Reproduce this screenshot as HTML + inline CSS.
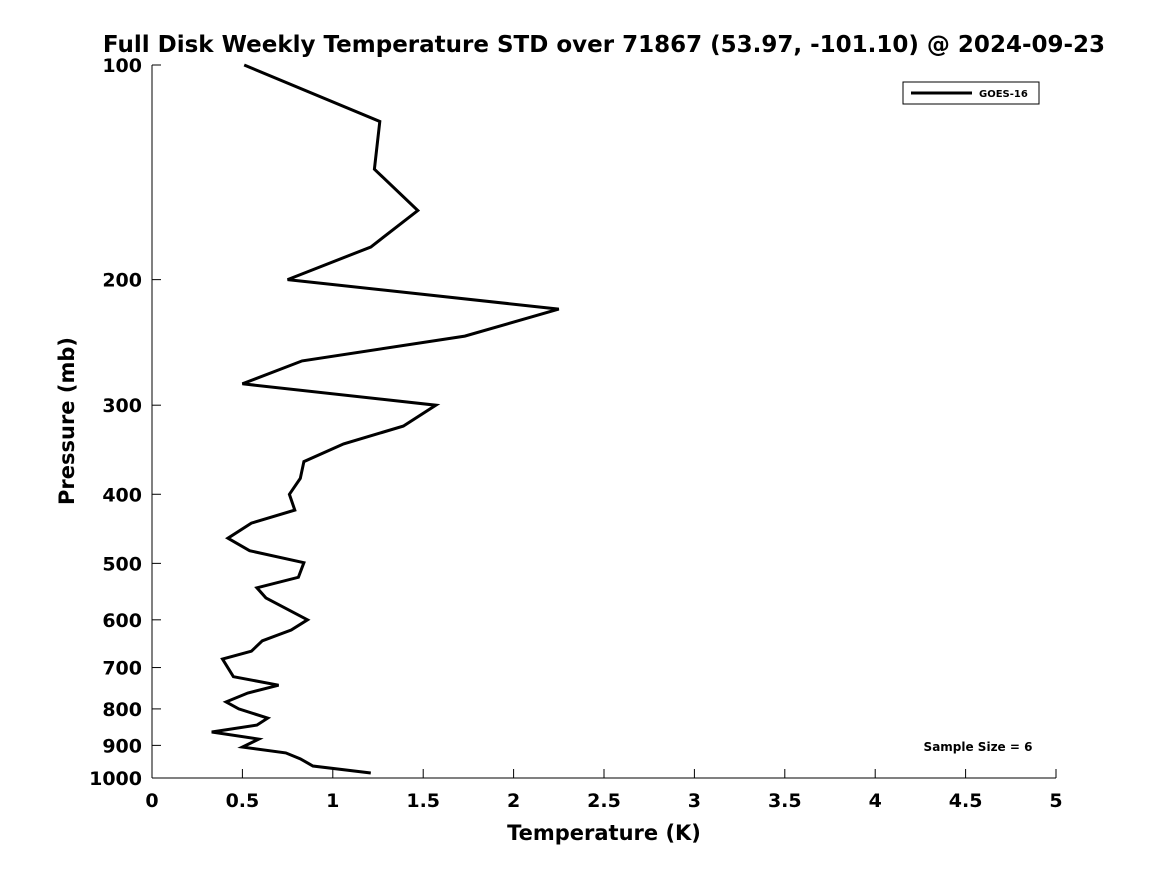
<!DOCTYPE html>
<html><head><meta charset="utf-8"><style>
body{margin:0;background:#fff;}
svg{display:block;font-family:"DejaVu Sans","Liberation Sans",sans-serif;font-weight:bold;}
</style></head><body>
<svg id="chart" width="1167" height="875">
<text x="604" y="52" text-anchor="middle" font-size="23">Full Disk Weekly Temperature STD over 71867 (53.97, -101.10) @ 2024-09-23</text>
<g id="axes"></g>
<polyline id="series" fill="none" stroke="#000" stroke-width="3" stroke-linejoin="miter"/>
<rect x="903" y="82" width="136" height="22" fill="#fff" stroke="#000" stroke-width="1"/>
<line x1="911" y1="93" x2="972" y2="93" stroke="#000" stroke-width="3"/>
<text x="979" y="97" font-size="10">GOES-16</text>
<text x="978" y="751" text-anchor="middle" font-size="12">Sample Size = 6</text>
<text x="604" y="840" text-anchor="middle" font-size="21">Temperature (K)</text>
<text transform="translate(74,421) rotate(-90)" text-anchor="middle" font-size="21">Pressure (mb)</text>
</svg>
<script>
const temps=[0.51,1.26,1.23,1.47,1.21,0.75,2.25,1.73,0.83,0.50,1.57,1.39,1.06,0.84,0.82,0.76,0.79,0.55,0.42,0.54,0.84,0.81,0.58,0.63,0.86,0.77,0.61,0.55,0.39,0.45,0.70,0.53,0.41,0.48,0.64,0.58,0.33,0.59,0.50,0.74,0.82,0.89,1.21];
const pressures=[100,120,140,160,180,200,220,240,260,280,300,321,340,360,380,400,421,439,461,480,499,523,541,559,600,620,642,664,681,721,741,760,782,800,824,843,862,882,905,922,940,962,984];
const xTicks=[0,0.5,1,1.5,2,2.5,3,3.5,4,4.5,5];
const xTickLabels=["0","0.5","1","1.5","2","2.5","3","3.5","4","4.5","5"];
const yTicks=[100,200,300,400,500,600,700,800,900,1000];
const X0=152,X1=1056,Y0=65,Y1=778;
const xs=v=>X0+(v-0)/(5-0)*(X1-X0);
const ys=p=>Y0+(Math.log10(p)-2)*(Y1-Y0);
const NS="http://www.w3.org/2000/svg";
const ax=document.getElementById('axes');
function mk(t,a){const e=document.createElementNS(NS,t);for(const k in a)e.setAttribute(k,a[k]);ax.appendChild(e);return e;}
let l=mk('line',{x1:X0,y1:Y0,x2:X0,y2:Y1,stroke:'#000','stroke-width':1});


l=mk('line',{x1:X0,y1:Y1,x2:X1,y2:Y1,stroke:'#000','stroke-width':1});


xTicks.forEach((v,i)=>{
  const t=mk('line',{x1:xs(v),y1:Y1,x2:xs(v),y2:Y1-9,stroke:'#000'});
  
  
  const tx=mk('text',{x:xs(v),y:Y1+29,'text-anchor':'middle','font-size':19});
  tx.textContent=xTickLabels[i];
  
  
});
yTicks.forEach(p=>{
  const t=mk('line',{x1:X0,y1:ys(p),x2:X0+9,y2:ys(p),stroke:'#000'});
  
  
  const tx=mk('text',{x:X0-10,y:ys(p)+7,'text-anchor':'end','font-size':19});
  tx.textContent=String(p);
  
  
});
document.getElementById('series').setAttribute('points',temps.map((t,i)=>xs(t).toFixed(1)+','+ys(pressures[i]).toFixed(1)).join(' '));
</script>
</body></html>
